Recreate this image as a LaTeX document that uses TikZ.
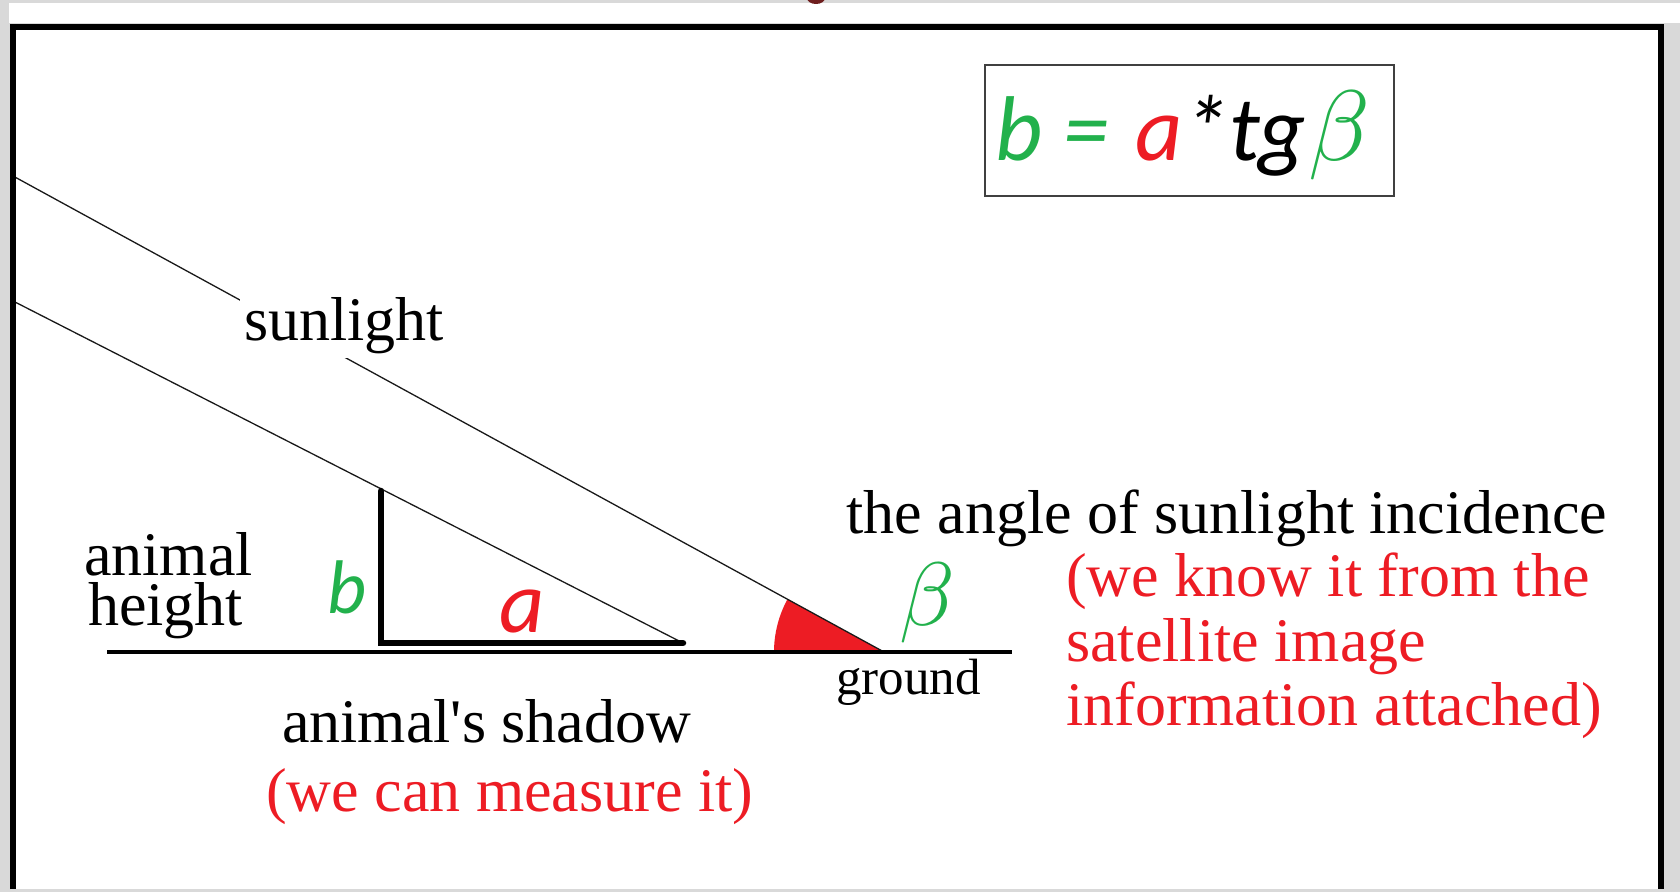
\documentclass[tikz,border=0pt]{standalone}
\usepackage{fontspec}
\setmainfont{Liberation Serif}
\newfontfamily\calibri{Carlito}
\usetikzlibrary{positioning}
\definecolor{paintgreen}{HTML}{22B14C}
\definecolor{paintred}{HTML}{ED1C24}
\definecolor{pagegray}{HTML}{D9D9D9}
\definecolor{titlered}{HTML}{6E1E1E}
\newcommand{\bigbeta}[1]{\scalebox{#1}{\normalsize$\beta$}}

\begin{document}
\begin{tikzpicture}[
  x=1pt, y=1pt,
  label/.style={font=\fontsize{62}{50}\selectfont, inner sep=0pt, anchor=base west},
  note/.style={label, text=paintred},
  small/.style={label, font=\fontsize{51}{56}\selectfont},
  letter/.style={font=\calibri\itshape\fontsize{80}{80}\selectfont, inner sep=0pt, anchor=base west},
  ray/.style={line width=1.3pt, draw=black!90},
  stick/.style={line width=6.5pt, line cap=round},
  ground/.style={line width=3.5pt}
]
\useasboundingbox (0,0) rectangle (1680,892);

% page and frame
\fill[pagegray] (0,0) rectangle (1680,892);
\fill[white] (9,869) rectangle (1680,889);
\fill[titlered] (816,894) ellipse (9 and 6);
\fill[white] (13,3) rectangle (1661,865);

% points of the scene
\coordinate (upstart) at (13,716);
\coordinate (lowstart) at (13,591);
\coordinate (apex) at (884,240);
\coordinate (tip) at (683,249);
\coordinate (head) at (381,401);
\coordinate (foot) at (381,249);
\coordinate (groundL) at (107,240);
\coordinate (groundR) at (1012,240);

% angle of incidence
\fill[paintred] (apex) -- ++(151.35:110pt) arc[start angle=151.35, end angle=180, radius=110pt] -- cycle;

% sun rays
\draw[ray] (upstart) -- (apex);
\draw[ray] (lowstart) -- (tip);
\node[label, fill=white, inner sep=4pt] (sun) at (240,551) {sunlight};

% animal and its shadow
\draw[stick] (head) -- (foot) -- (tip);
\draw[ground] (groundL) -- (groundR);

% formula
\node[draw=black!75, line width=1.5pt, minimum width=409pt, minimum height=131pt,
      inner sep=0pt] (formulabox) at (1189.5,761.5) {};
\node[letter, font=\calibri\itshape\fontsize{92}{92}\selectfont] (formula) at (995,731)
  {\textcolor{paintgreen}{b =} \hspace{6pt}\textcolor{paintred}{a}*tg\hspace{3pt}\textcolor{paintgreen}{\bigbeta{10}}};

% labels
\node[letter, text=paintgreen, font=\calibri\itshape\fontsize{76}{76}\selectfont] (blabel) at (327,279) {b};
\node[letter, text=paintred, font=\calibri\itshape\fontsize{88}{88}\selectfont] (alabel) at (499,260) {a};
\node[text=paintgreen, inner sep=0pt] (beta) at (927,289) {\bigbeta{9}};

\node[label, align=left] (animal) at (84,267) {animal\\\hspace*{4pt}height};
\node[label] (shadow) at (282,150) {animal\textquotesingle s shadow};
\node[note] (measure) at (266,81) {(we can measure it)};
\node[small] (groundlabel) at (836,198) {ground};

\node[label] (incidence) at (846,358) {the angle of sunlight incidence};
\node[note] (known1) at (1066,295) {(we know it from the};
\node[note] (known2) at ([yshift=-64pt]known1.base west) {satellite image};
\node[note] (known3) at ([yshift=-64pt]known2.base west) {information attached)};

% frame on top
\draw[line width=6pt] (13,3) -- (13,865) -- (1661,865) -- (1661,3);
\end{tikzpicture}
\end{document}
